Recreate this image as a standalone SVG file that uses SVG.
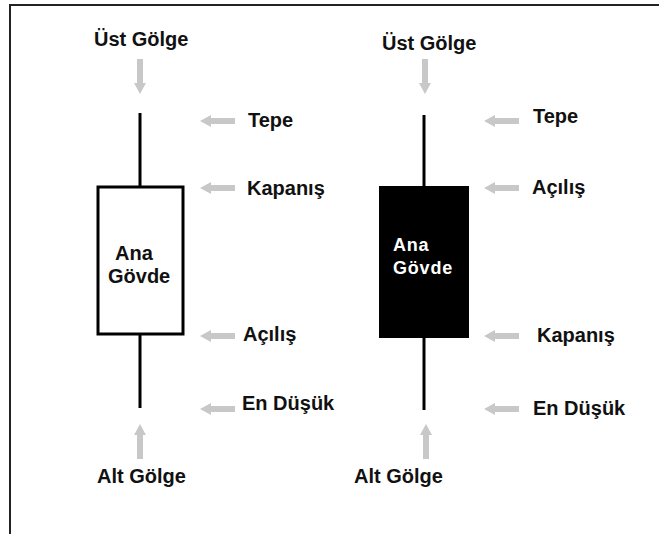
<svg xmlns="http://www.w3.org/2000/svg" width="659" height="534" viewBox="0 0 659 534">
<style>
.lbl{font-family:"Liberation Sans",Arial,sans-serif;font-weight:bold;font-size:20px;fill:#111}
.body{font-family:"Liberation Sans",Arial,sans-serif;font-weight:bold;font-size:18px;letter-spacing:0.8px;fill:#fff}
.wick{stroke:#000;stroke-width:3;fill:none}
.arr{fill:#c8c8c8}
</style>
<defs>
<path id="la" d="M0,0 L11,-6 L11,-3 L35,-3 L35,3 L11,3 L11,6 Z"/>
</defs>
<rect width="659" height="534" fill="#fff"/>
<path d="M10,534 L10,5 L659,5" fill="none" stroke="#222" stroke-width="2"/>
<g id="white-candle">
<line class="wick" x1="140" y1="113" x2="140" y2="187"/>
<line class="wick" x1="140" y1="335" x2="140" y2="408"/>
<rect x="98" y="187" width="85" height="147" fill="#fff" stroke="#000" stroke-width="3"/>
<text class="lbl" x="115" y="260">Ana</text>
<text class="lbl" x="108" y="283">Gövde</text>
</g>
<g id="black-candle">
<line class="wick" x1="424" y1="115" x2="424" y2="187"/>
<line class="wick" x1="424" y1="337" x2="424" y2="410"/>
<rect x="379" y="186" width="90" height="152" fill="#000"/>
<text class="body" x="393" y="251">Ana</text>
<text class="body" x="393" y="274">Gövde</text>
</g>
<g id="connectors">
<use href="#la" class="arr" transform="translate(140,94) rotate(-90)"/>
<use href="#la" class="arr" transform="translate(140,424) rotate(90)"/>
<use href="#la" class="arr" transform="translate(425,94) rotate(-90)"/>
<use href="#la" class="arr" transform="translate(426,424) rotate(90)"/>
<use href="#la" class="arr" transform="translate(200,121)"/>
<use href="#la" class="arr" transform="translate(200,188)"/>
<use href="#la" class="arr" transform="translate(200,336)"/>
<use href="#la" class="arr" transform="translate(200,409)"/>
<use href="#la" class="arr" transform="translate(484,121)"/>
<use href="#la" class="arr" transform="translate(484,188)"/>
<use href="#la" class="arr" transform="translate(484,336)"/>
<use href="#la" class="arr" transform="translate(484,409)"/>
</g>
<g id="left-labels">
<text class="lbl" x="94" y="46">Üst Gölge</text>
<text class="lbl" x="248" y="127">Tepe</text>
<text class="lbl" x="247" y="195">Kapanış</text>
<text class="lbl" x="243" y="341">Açılış</text>
<text class="lbl" x="242" y="410">En Düşük</text>
<text class="lbl" x="97" y="483">Alt Gölge</text>
</g>
<g id="right-labels">
<text class="lbl" x="382" y="50">Üst Gölge</text>
<text class="lbl" x="533" y="123">Tepe</text>
<text class="lbl" x="532" y="194">Açılış</text>
<text class="lbl" x="537" y="342">Kapanış</text>
<text class="lbl" x="533" y="415">En Düşük</text>
<text class="lbl" x="354" y="483">Alt Gölge</text>
</g>
</svg>
